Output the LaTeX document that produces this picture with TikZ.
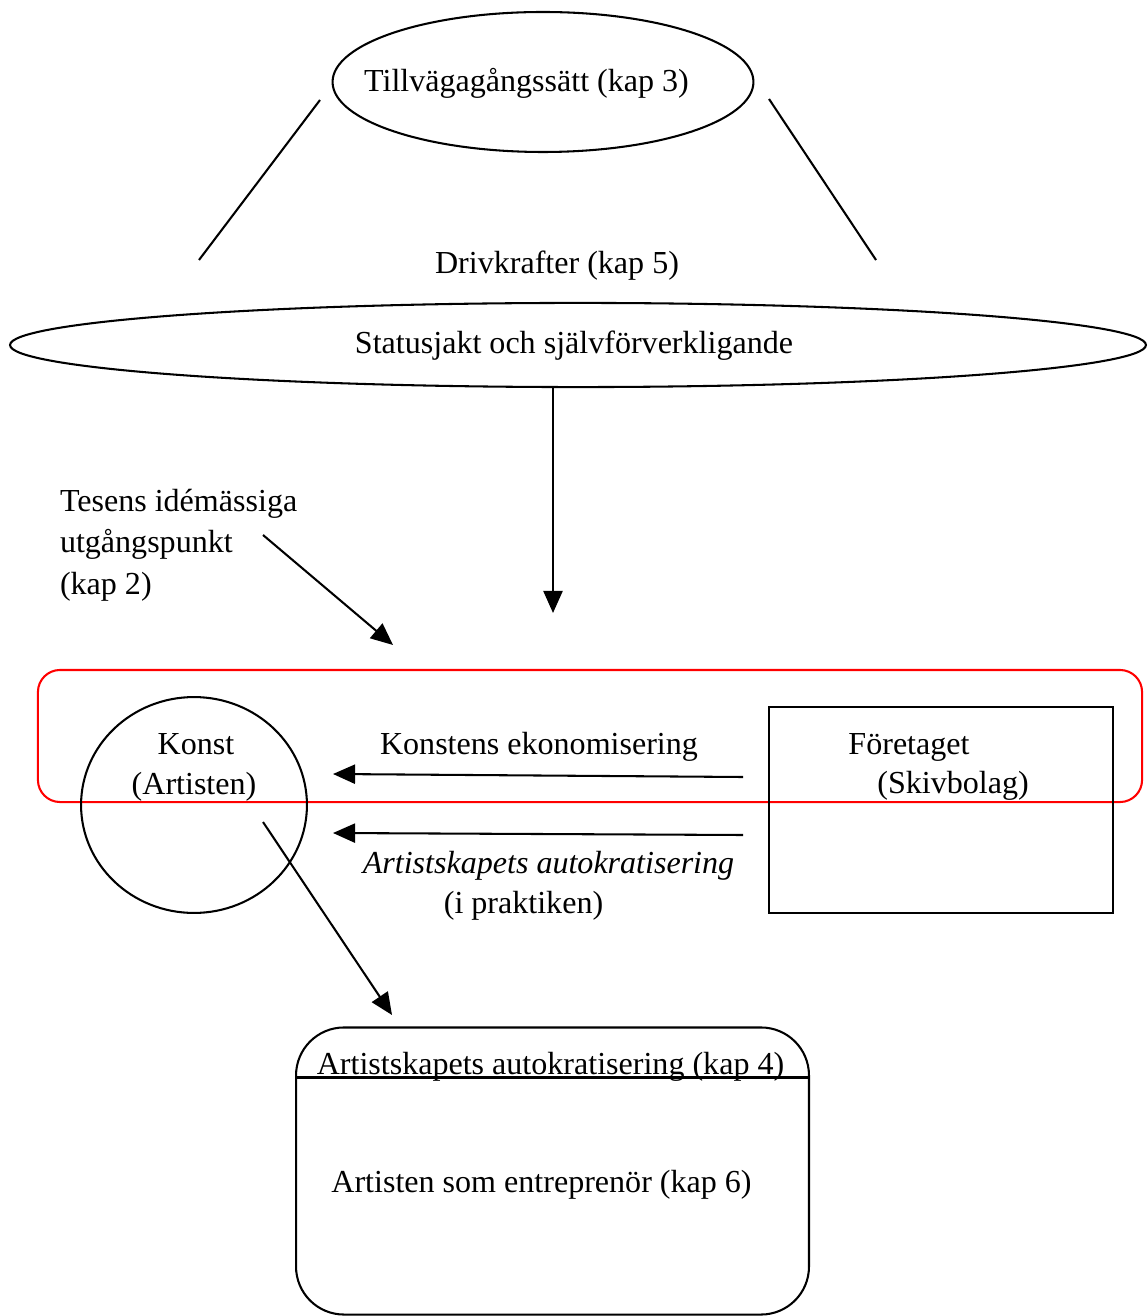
\documentclass[tikz,border=0pt]{standalone}
\usepackage{fontspec}
\setmainfont{Liberation Serif}
\usetikzlibrary{shapes.geometric,arrows.meta}
\begin{document}
\begin{tikzpicture}[x=0.34pt,y=-0.34pt,
  every node/.style={inner sep=0pt,outer sep=0pt},
  lbl/.style={anchor=base,font=\fontsize{10.9pt}{13.9pt}\selectfont},
  ln/.style={line width=0.7pt},
  arr/.style={line width=0.7pt,-{Triangle[length=7.5pt,width=6.5pt]}},
  shp/.style={draw,line width=0.7pt}]
\fill[white] (0,0) rectangle (1147,1316);
\useasboundingbox (0,0) rectangle (1147,1316);

% shapes
\node[shp,ellipse,minimum width=143.1pt,minimum height=47.6pt] (tillv) at (543,82) {};
\node[shp,ellipse,minimum width=386.2pt,minimum height=28.6pt] (status) at (578,345) {};
\node[shp,draw=red,rounded corners=7.5pt,minimum width=375.4pt,minimum height=44.9pt] (red) at (590,736) {};
\node[shp,ellipse,minimum width=76.8pt,minimum height=73.4pt] (konst) at (194,805) {};
\node[shp,rectangle,minimum width=117pt,minimum height=70pt] (foretag) at (941,810) {};
\node[shp,rounded corners=16.3pt,minimum width=174.4pt,minimum height=97.6pt] (bottom) at (552.5,1171) {};
\draw[ln] ([yshift=-17pt]bottom.north west) -- ([yshift=-17pt]bottom.north east);

% texts
\node[lbl] (t1) at (526.5,92) {Tillvägagångssätt (kap 3)};
\node[lbl] (t2) at (557,274) {Drivkrafter (kap 5)};
\node[lbl] (t3) at (574,354) {Statusjakt och självförverkligande};
\node[lbl,anchor=base west] (t4a) at (60,512) {Tesens idémässiga};
\node[lbl,anchor=base west] (t4b) at (60,553) {utgångspunkt};
\node[lbl,anchor=base west] (t4c) at (60,594) {(kap 2)};
\node[lbl] (k1) at (196,754) {Konst};
\node[lbl] (k2) at (194,794) {(Artisten)};
\node[lbl] (ke) at (539,754) {Konstens ekonomisering};
\node[lbl,font=\fontsize{10.9pt}{13.9pt}\selectfont\itshape] (aa) at (548.5,873) {Artistskapets autokratisering};
\node[lbl] (ip) at (523.5,913) {(i praktiken)};
\node[lbl] (f1) at (909,754) {Företaget};
\node[lbl] (f2) at (953,793) {(Skivbolag)};
\node[lbl] (b1) at (550.5,1074) {Artistskapets autokratisering (kap 4)};
\node[lbl] (b2) at (541.5,1192) {Artisten som entreprenör (kap 6)};

% connector end points
\coordinate (l1a) at (320,100); \coordinate (l1b) at (199,260);
\coordinate (l2a) at (769,99);  \coordinate (l2b) at (876,260);
\coordinate (v1) at (553,388);  \coordinate (v2) at (553,613);
\coordinate (d1) at (263,535);  \coordinate (d2) at (393,645);
\coordinate (e1) at (743,777);  \coordinate (e2) at (333,774);
\coordinate (a1) at (743,835);  \coordinate (a2) at (333,833);
\coordinate (s1) at (263,822);  \coordinate (s2) at (392,1015);

\draw[ln] (l1a) -- (l1b);
\draw[ln] (l2a) -- (l2b);
\draw[arr] (v1) -- (v2);
\draw[arr] (d1) -- (d2);
\draw[arr] (e1) -- (e2);
\draw[arr] (a1) -- (a2);
\draw[arr] (s1) -- (s2);
\end{tikzpicture}
\end{document}
